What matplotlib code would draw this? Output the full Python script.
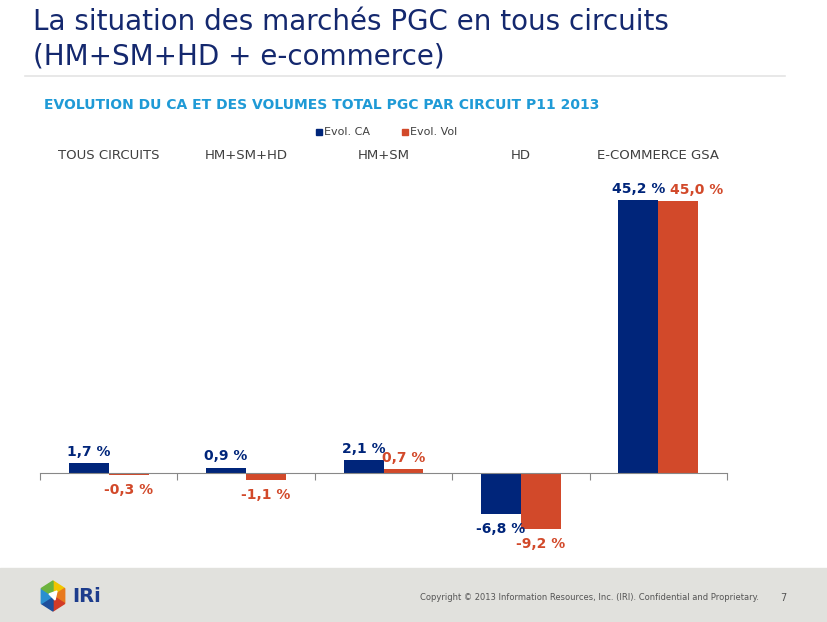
import numpy as np
import matplotlib.pyplot as plt
from matplotlib.patches import Rectangle, Polygon
from matplotlib.transforms import blended_transform_factory

# data
circuits = ['TOUS CIRCUITS', 'HM+SM+HD', 'HM+SM', 'HD', 'E-COMMERCE GSA']
evol_ca = [1.7, 0.9, 2.1, -6.8, 45.2]
evol_vol = [-0.3, -1.1, 0.7, -9.2, 45.0]
series_names = ['Evol. CA', 'Evol. Vol']

navy = '#00257a'
orange = '#d2492a'
title_col = '#14286e'

fig = plt.figure(figsize=(8.27, 6.22), dpi=100)
fig.patch.set_facecolor('white')

# titles
fig.text(33/827, 1-22/622, 'La situation des marchés PGC en tous circuits',
         fontsize=20, color=title_col, va='center', ha='left')
fig.text(33/827, 1-56/622, '(HM+SM+HD + e-commerce)',
         fontsize=20, color=title_col, va='center', ha='left')
fig.add_artist(plt.Line2D([25/827, 785/827], [1-76/622, 1-76/622],
                          color='#e4e4e4', lw=1.2))
fig.text(44/827, 1-105/622,
         'EVOLUTION DU CA ET DES VOLUMES TOTAL PGC PAR CIRCUIT P11 2013',
         fontsize=10, fontweight='bold', color='#1f9ad6', va='center', ha='left')

# chart
ax = fig.add_axes([40/827, 1-545.5/622, 687/827, 374.5/622])
x = np.arange(len(circuits))
w = 0.29
b1 = ax.bar(x - w/2, evol_ca, w, color=navy)
b2 = ax.bar(x + w/2, evol_vol, w, color=orange)
ax.set_xlim(-0.5, len(circuits) - 0.5)
ax.set_ylim(-12, 50)

for s in ['top', 'right', 'left']:
    ax.spines[s].set_visible(False)
ax.spines['bottom'].set_position(('data', 0))
ax.spines['bottom'].set_color('#888888')
ax.set_xticks(np.arange(-0.5, len(circuits), 1.0))
ax.set_xticklabels([])
ax.tick_params(axis='x', direction='out', length=5, color='#888888')
ax.set_yticks([])

def fmt(v):
    return ('%.1f %%' % v).replace('.', ',')

for bars, vals, col in [(b1, evol_ca, navy), (b2, evol_vol, orange)]:
    for r, v in zip(bars, vals):
        cx = r.get_x() + r.get_width()/2
        if v >= 0:
            ha, dx = 'center', 0
            # the two big labels would collide, push the Vol one right
            if bars is b2 and v > 40:
                ha, dx = 'left', -6
            ax.annotate(fmt(v), (cx, v), xytext=(dx, 3), textcoords='offset points',
                        ha=ha, va='bottom', fontsize=10, fontweight='bold', color=col)
        else:
            ax.annotate(fmt(v), (cx, v), xytext=(0, -6), textcoords='offset points',
                        ha='center', va='top', fontsize=10, fontweight='bold', color=col)

# category labels on top
trans = blended_transform_factory(ax.transData, fig.transFigure)
for i, c in enumerate(circuits):
    ax.text(i, 1-155/622, c, transform=trans, ha='center', va='center',
            fontsize=9.5, color='#404040')

# legend
for nm, col, lx in [(series_names[0], navy, 316), (series_names[1], orange, 402)]:
    fig.add_artist(Rectangle((lx/827, 1-135/622), 6/827, 6/622, color=col,
                             transform=fig.transFigure))
    fig.text((lx+8)/827, 1-132/622, nm, fontsize=8, color='#404040', va='center')

# footer
fig.add_artist(Rectangle((0, 0), 1, 54/622, color='#e1e1dd', transform=fig.transFigure, zorder=0))
fig.text(420/827, 1-598/622,
         'Copyright © 2013 Information Resources, Inc. (IRI). Confidential and Proprietary.',
         fontsize=6, color='#555555', va='center', ha='left')
fig.text(783/827, 1-598/622, '7', fontsize=7, color='#555555', va='center', ha='center')

# logo
cxl, cyl, rl = 53, 596, 15
ang = np.deg2rad(np.array([90, 30, -30, -90, -150, 150]))
px = cxl + rl*np.cos(ang)*0.9
py = cyl - rl*np.sin(ang)
logo_cols = ['#f2c500', '#e8791e', '#d23b27', '#1d4f9c', '#2b8fd1', '#6cb33e']
for k in range(6):
    pts = [(cxl/827, 1-cyl/622), (px[k]/827, 1-py[k]/622),
           (px[(k+1) % 6]/827, 1-py[(k+1) % 6]/622)]
    fig.add_artist(Polygon(pts, closed=True, color=logo_cols[k], transform=fig.transFigure))
fig.add_artist(Polygon([((cxl-4)/827, 1-(cyl-2)/622), ((cxl+4)/827, 1-(cyl-5)/622),
                        ((cxl+2)/827, 1-(cyl+4)/622)], closed=True, color='white',
                       transform=fig.transFigure))
fig.text(72/827, 1-597/622, 'IRi', fontsize=14, fontweight='bold', color='#1d3c8c',
         va='center', ha='left')

fig.savefig('out.png', dpi=100)
